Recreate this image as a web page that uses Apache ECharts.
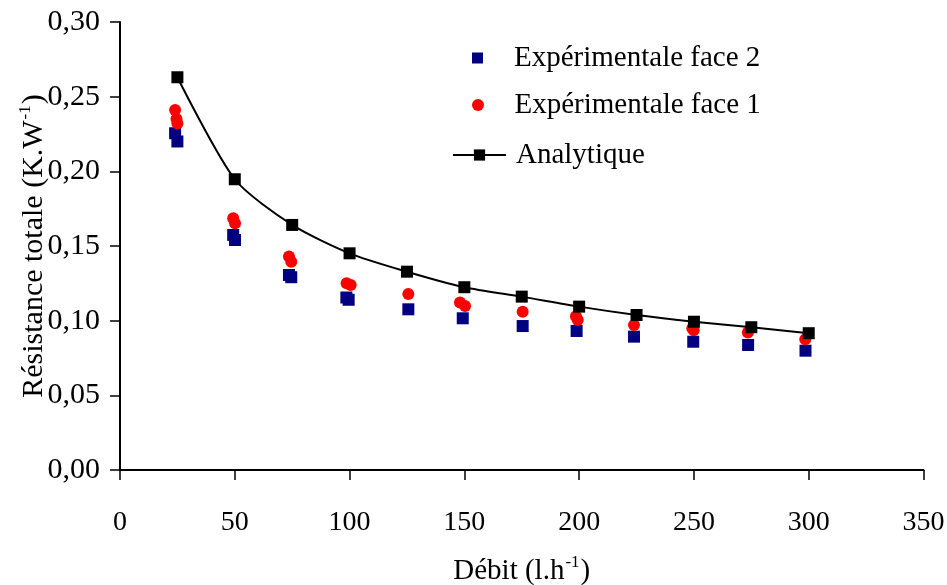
<!DOCTYPE html>
<html>
<head>
<meta charset="utf-8">
<script src="https://cdn.jsdelivr.net/npm/echarts@6/dist/echarts.min.js"></script>
<style>html,body{margin:0;padding:0;background:#fff}#c{width:947px;height:585px}</style>
</head>
<body>
<div id="c"></div>
<script>
// ---- data ----
var xTicks = [0, 50, 100, 150, 200, 250, 300, 350];
var yTicks = [0, 0.05, 0.10, 0.15, 0.20, 0.25, 0.30];

var analyticX = [25, 50, 75, 100, 125, 150, 175, 200, 225, 250, 275, 300];
var analyticY = [0.263, 0.1947, 0.1641, 0.1451, 0.1328, 0.1224, 0.1161, 0.1094, 0.1038, 0.0993, 0.0956, 0.0916];

var face2X = [24.0, 25.0, 49.3, 50.1, 73.6, 74.6, 98.6, 99.6, 125.6, 149.3, 175.4, 198.9, 223.9, 249.7, 273.6, 298.6];
var face2Y = [0.2255, 0.2200, 0.1574, 0.1540, 0.1306, 0.1291, 0.1155, 0.1140, 0.1076, 0.1016, 0.0964, 0.0931, 0.0893, 0.0859, 0.0837, 0.0799];

var face1X = [24.0, 24.6, 25.0, 49.3, 50.1, 73.6, 74.6, 98.7, 100.5, 125.6, 148.1, 150.3, 175.4, 198.6, 199.4, 223.9, 249.3, 249.9, 273.5, 298.5];
var face1Y = [0.2410, 0.2350, 0.2320, 0.1686, 0.1652, 0.1429, 0.1395, 0.1250, 0.1239, 0.1179, 0.1121, 0.1098, 0.1060, 0.1030, 0.1005, 0.0971, 0.0950, 0.0935, 0.0920, 0.0875];

var names = ['Expérimentale face 2', 'Expérimentale face 1', 'Analytique'];

function pairs(xs, ys) { return xs.map(function (x, i) { return [x, ys[i]]; }); }

var FONT = 'Liberation Serif';
var chart = echarts.init(document.getElementById('c'), null, { renderer: 'canvas' });

var SQUARE = 'path://M0,0L10,0L10,10L0,10Z';
var CIRCLE = 'path://M10,5A5,5,0,1,1,0,5A5,5,0,1,1,10,5Z';

function legendFor(item, left, top, itemH) {
  return {
    data: [item], orient: 'vertical', left: left, top: top, padding: 0,
    itemWidth: 53, itemHeight: itemH, selectedMode: false, symbolKeepAspect: true,
    textStyle: { fontFamily: FONT, fontSize: 29, color: '#000', lineHeight: 32, padding: [0, 0, 0, 5] }
  };
}

chart.setOption({
  animation: false,
  backgroundColor: '#fff',
  grid: { left: 120, right: 23.5, top: 22, bottom: 115, containLabel: false, outerBoundsMode: 'none' },
  legend: [
    legendFor({ name: names[0], icon: SQUARE }, 472, 42, 11),
    legendFor({ name: names[1], icon: CIRCLE }, 472, 89, 12),
    legendFor({ name: names[2] }, 452, 139, 14)
  ],
  xAxis: {
    type: 'value', min: xTicks[0], max: xTicks[xTicks.length - 1], interval: 50,
    name: '{n|Débit (l.h}{s|-1}{n|)}', nameLocation: 'middle', nameGap: 84, nameMoveOverlap: false,
    nameTextStyle: {
      rich: {
        n: { fontFamily: FONT, fontSize: 29, color: '#000', lineHeight: 32, verticalAlign: 'bottom' },
        s: { fontFamily: FONT, fontSize: 17, color: '#000', lineHeight: 32, verticalAlign: 'top', padding: [0, 1, 0, 1] }
      }
    },
    axisLine: { onZero: false, lineStyle: { color: '#000', width: 2 } },
    axisTick: { inside: false, length: 10, lineStyle: { color: '#000', width: 1.5 } },
    axisLabel: { margin: 39, fontFamily: FONT, fontSize: 28, color: '#000' },
    splitLine: { show: false }
  },
  yAxis: {
    type: 'value', min: yTicks[0], max: yTicks[yTicks.length - 1], interval: 0.05,
    name: '{n|Résistance totale (K.W}{s|-1}{n|)}', nameLocation: 'middle', nameGap: 71, nameRotate: 90,
    nameMoveOverlap: false,
    nameTextStyle: {
      rich: {
        n: { fontFamily: FONT, fontSize: 30, color: '#000', lineHeight: 32, verticalAlign: 'bottom' },
        s: { fontFamily: FONT, fontSize: 17, color: '#000', lineHeight: 32, verticalAlign: 'top', padding: [0, 1, 0, 1] }
      }
    },
    axisLine: { show: true, onZero: false, lineStyle: { color: '#000', width: 2 } },
    axisTick: { show: true, inside: false, length: 10, lineStyle: { color: '#000', width: 1.5 } },
    axisLabel: {
      margin: 20, fontFamily: FONT, fontSize: 30, color: '#000',
      formatter: function (v) { return v.toFixed(2).replace('.', ','); }
    },
    splitLine: { show: false }
  },
  series: [
    {
      name: names[0], type: 'scatter', data: pairs(face2X, face2Y),
      symbol: 'rect', symbolSize: 12, itemStyle: { color: '#000080', opacity: 1 }
    },
    {
      name: names[1], type: 'scatter', data: pairs(face1X, face1Y),
      symbol: 'circle', symbolSize: 12, itemStyle: { color: '#ff0000', opacity: 1 }
    },
    {
      name: names[2], type: 'line', data: pairs(analyticX, analyticY), smooth: 0.25,
      symbol: 'rect', symbolSize: 12, showSymbol: true,
      lineStyle: { color: '#000', width: 2 }, itemStyle: { color: '#000' }
    }
  ]
});
</script>
</body>
</html>
